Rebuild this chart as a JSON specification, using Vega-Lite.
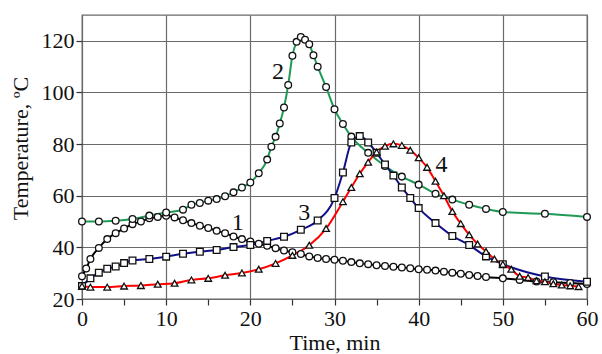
{
  "$schema": "https://vega.github.io/schema/vega-lite/v6.json",
  "autosize": "none",
  "width": 505,
  "height": 284,
  "padding": {"left": 82, "top": 15, "right": 15, "bottom": 55},
  "background": "white",
  "config": {
    "font": "Liberation Serif",
    "view": {"stroke": "#6a6a6a", "strokeWidth": 1.3},
    "axis": {
      "labelFont": "Liberation Serif",
      "titleFont": "Liberation Serif",
      "labelFontSize": 22,
      "titleFontSize": 22,
      "titleFontWeight": "normal",
      "labelColor": "#111",
      "titleColor": "#111",
      "domain": false,
      "gridColor": "#6a6a6a",
      "gridWidth": 1.2,
      "gridOpacity": 1,
      "tickColor": "#333",
      "tickSize": 6,
      "tickWidth": 1.2
    }
  },
  "datasets": {
    "series": [
      {"t": 0, "v": 28.8, "s": "1"}, {"t": 0.5, "v": 31.8, "s": "1"}, {"t": 1, "v": 35.5, "s": "1"}, {"t": 2, "v": 39.8, "s": "1"},
      {"t": 3, "v": 43.2, "s": "1"}, {"t": 4, "v": 45.5, "s": "1"}, {"t": 5, "v": 47.3, "s": "1"}, {"t": 6, "v": 49.0, "s": "1"},
      {"t": 7, "v": 50.0, "s": "1"}, {"t": 8, "v": 51.3, "s": "1"}, {"t": 9, "v": 51.8, "s": "1"}, {"t": 10, "v": 52.2, "s": "1"},
      {"t": 11, "v": 51.6, "s": "1"}, {"t": 12, "v": 50.5, "s": "1"}, {"t": 13, "v": 49.4, "s": "1"}, {"t": 14, "v": 48.4, "s": "1"},
      {"t": 15, "v": 47.5, "s": "1"}, {"t": 16, "v": 46.4, "s": "1"}, {"t": 17, "v": 45.5, "s": "1"}, {"t": 18, "v": 44.2, "s": "1"},
      {"t": 19, "v": 43.2, "s": "1"}, {"t": 20, "v": 42.3, "s": "1"}, {"t": 21, "v": 41.4, "s": "1"}, {"t": 22, "v": 40.6, "s": "1"},
      {"t": 23, "v": 39.7, "s": "1"}, {"t": 24, "v": 38.8, "s": "1"}, {"t": 25, "v": 38.1, "s": "1"}, {"t": 26, "v": 37.4, "s": "1"},
      {"t": 27, "v": 36.5, "s": "1"}, {"t": 28, "v": 35.9, "s": "1"}, {"t": 29, "v": 35.5, "s": "1"}, {"t": 30, "v": 35.2, "s": "1"},
      {"t": 31, "v": 34.8, "s": "1"}, {"t": 32, "v": 34.3, "s": "1"}, {"t": 33, "v": 33.8, "s": "1"}, {"t": 34, "v": 33.5, "s": "1"},
      {"t": 35, "v": 33.1, "s": "1"}, {"t": 36, "v": 32.8, "s": "1"}, {"t": 37, "v": 32.5, "s": "1"}, {"t": 38, "v": 32.2, "s": "1"},
      {"t": 39, "v": 31.9, "s": "1"}, {"t": 40, "v": 31.5, "s": "1"}, {"t": 41, "v": 31.3, "s": "1"}, {"t": 42, "v": 31.0, "s": "1"},
      {"t": 43, "v": 30.6, "s": "1"}, {"t": 44, "v": 30.2, "s": "1"}, {"t": 45, "v": 29.8, "s": "1"}, {"t": 46, "v": 29.3, "s": "1"},
      {"t": 47, "v": 28.9, "s": "1"}, {"t": 48, "v": 28.5, "s": "1"}, {"t": 50, "v": 28.0, "s": "1"}, {"t": 52, "v": 27.4, "s": "1"},
      {"t": 54, "v": 26.8, "s": "1"}, {"t": 56, "v": 26.5, "s": "1"}, {"t": 58, "v": 26.2, "s": "1"}, {"t": 60, "v": 25.8, "s": "1"},

      {"t": 0, "v": 50.0, "s": "2"}, {"t": 2, "v": 50.0, "s": "2"}, {"t": 4, "v": 50.3, "s": "2"}, {"t": 6, "v": 51.0, "s": "2"},
      {"t": 8, "v": 52.3, "s": "2"}, {"t": 10, "v": 53.5, "s": "2"}, {"t": 12, "v": 54.6, "s": "2"}, {"t": 13, "v": 56.5, "s": "2"},
      {"t": 14, "v": 57.2, "s": "2"}, {"t": 15, "v": 58.1, "s": "2"}, {"t": 16, "v": 58.7, "s": "2"}, {"t": 17, "v": 59.8, "s": "2"},
      {"t": 18, "v": 61.3, "s": "2"}, {"t": 19, "v": 63.2, "s": "2"}, {"t": 20, "v": 65.1, "s": "2"}, {"t": 21, "v": 68.7, "s": "2"},
      {"t": 22, "v": 74.0, "s": "2"}, {"t": 22.5, "v": 79.0, "s": "2"}, {"t": 23, "v": 82.8, "s": "2"}, {"t": 23.5, "v": 88.0, "s": "2"},
      {"t": 24, "v": 94.2, "s": "2"}, {"t": 24.5, "v": 102.9, "s": "2"}, {"t": 25, "v": 114.2, "s": "2"}, {"t": 25.5, "v": 119.6, "s": "2"},
      {"t": 26, "v": 121.5, "s": "2"}, {"t": 26.5, "v": 120.4, "s": "2"}, {"t": 27, "v": 118.7, "s": "2"}, {"t": 27.5, "v": 114.4, "s": "2"},
      {"t": 28, "v": 110.0, "s": "2"}, {"t": 29, "v": 102.1, "s": "2"}, {"t": 30, "v": 93.5, "s": "2"}, {"t": 31, "v": 87.8, "s": "2"},
      {"t": 32, "v": 82.9, "s": "2"}, {"t": 34, "v": 76.6, "s": "2"}, {"t": 36, "v": 71.5, "s": "2"}, {"t": 38, "v": 67.4, "s": "2"},
      {"t": 40, "v": 64.3, "s": "2"}, {"t": 42, "v": 60.8, "s": "2"}, {"t": 44, "v": 58.5, "s": "2"}, {"t": 46, "v": 56.5, "s": "2"},
      {"t": 48, "v": 54.9, "s": "2"}, {"t": 50, "v": 53.7, "s": "2"}, {"t": 55, "v": 53.0, "s": "2"}, {"t": 60, "v": 51.8, "s": "2"},

      {"t": 0, "v": 25.0, "s": "3"}, {"t": 1, "v": 28.0, "s": "3"}, {"t": 2, "v": 30.2, "s": "3"}, {"t": 3, "v": 31.7, "s": "3"},
      {"t": 4, "v": 32.6, "s": "3"}, {"t": 5, "v": 33.9, "s": "3"}, {"t": 6, "v": 34.9, "s": "3"}, {"t": 8, "v": 35.5, "s": "3"},
      {"t": 10, "v": 36.4, "s": "3"}, {"t": 12, "v": 37.5, "s": "3"}, {"t": 14, "v": 38.3, "s": "3"}, {"t": 16, "v": 39.0, "s": "3"},
      {"t": 18, "v": 40.1, "s": "3"}, {"t": 20, "v": 40.9, "s": "3"}, {"t": 22, "v": 42.5, "s": "3"}, {"t": 24, "v": 44.1, "s": "3"},
      {"t": 26, "v": 46.8, "s": "3"}, {"t": 28, "v": 50.4, "s": "3"}, {"t": 30, "v": 59.1, "s": "3"}, {"t": 31, "v": 69.0, "s": "3"},
      {"t": 32, "v": 80.6, "s": "3"}, {"t": 33, "v": 83.1, "s": "3"}, {"t": 34, "v": 80.6, "s": "3"}, {"t": 35, "v": 76.6, "s": "3"},
      {"t": 36, "v": 72.1, "s": "3"}, {"t": 37, "v": 67.8, "s": "3"}, {"t": 38, "v": 63.2, "s": "3"}, {"t": 39, "v": 59.1, "s": "3"},
      {"t": 40, "v": 55.2, "s": "3"}, {"t": 42, "v": 49.4, "s": "3"}, {"t": 44, "v": 44.4, "s": "3"}, {"t": 46, "v": 40.9, "s": "3"},
      {"t": 48, "v": 36.5, "s": "3"}, {"t": 50, "v": 33.5, "s": "3"}, {"t": 55, "v": 28.7, "s": "3"}, {"t": 60, "v": 26.7, "s": "3"},

      {"t": 0, "v": 25.0, "s": "4"}, {"t": 1, "v": 24.6, "s": "4"}, {"t": 3, "v": 24.6, "s": "4"}, {"t": 5, "v": 25.0, "s": "4"},
      {"t": 7, "v": 25.2, "s": "4"}, {"t": 9, "v": 25.7, "s": "4"}, {"t": 11, "v": 26.1, "s": "4"}, {"t": 13, "v": 27.4, "s": "4"},
      {"t": 15, "v": 28.0, "s": "4"}, {"t": 17, "v": 29.2, "s": "4"}, {"t": 19, "v": 30.1, "s": "4"}, {"t": 21, "v": 31.5, "s": "4"},
      {"t": 23, "v": 33.8, "s": "4"}, {"t": 25, "v": 36.9, "s": "4"}, {"t": 27, "v": 40.8, "s": "4"}, {"t": 29, "v": 47.3, "s": "4"},
      {"t": 31, "v": 57.7, "s": "4"}, {"t": 32, "v": 63.2, "s": "4"}, {"t": 33, "v": 68.5, "s": "4"}, {"t": 34, "v": 73.0, "s": "4"},
      {"t": 35, "v": 76.9, "s": "4"}, {"t": 36, "v": 79.2, "s": "4"}, {"t": 37, "v": 80.1, "s": "4"}, {"t": 38, "v": 79.5, "s": "4"},
      {"t": 39, "v": 77.6, "s": "4"}, {"t": 40, "v": 74.7, "s": "4"}, {"t": 41, "v": 71.0, "s": "4"}, {"t": 42, "v": 65.6, "s": "4"},
      {"t": 43, "v": 60.0, "s": "4"}, {"t": 44, "v": 53.9, "s": "4"}, {"t": 45, "v": 49.2, "s": "4"}, {"t": 46, "v": 44.9, "s": "4"},
      {"t": 47, "v": 41.3, "s": "4"}, {"t": 48, "v": 38.4, "s": "4"}, {"t": 49, "v": 35.5, "s": "4"}, {"t": 50, "v": 33.5, "s": "4"},
      {"t": 51, "v": 31.5, "s": "4"}, {"t": 52, "v": 28.8, "s": "4"}, {"t": 53, "v": 28.3, "s": "4"}, {"t": 54, "v": 27.1, "s": "4"},
      {"t": 55, "v": 26.7, "s": "4"}, {"t": 56, "v": 25.9, "s": "4"}, {"t": 57, "v": 25.4, "s": "4"}, {"t": 58, "v": 25.1, "s": "4"},
      {"t": 59, "v": 24.8, "s": "4"}
    ],
    "labels": [
      {"t": 18.5, "v": 49.5, "label": "1"},
      {"t": 23.3, "v": 108, "label": "2"},
      {"t": 26.4, "v": 53.4, "label": "3"},
      {"t": 42.7, "v": 71.8, "label": "4"}
    ]
  },
  "encoding": {
    "x": {
      "field": "t", "type": "quantitative",
      "scale": {"domain": [0, 60], "nice": false, "zero": false},
      "axis": {
        "title": "Time, min",
        "values": [0, 5, 10, 15, 20, 25, 30, 35, 40, 45, 50, 55, 60],
        "labelExpr": "datum.value % 10 === 0 ? datum.label : ''",
        "gridOpacity": {"condition": {"test": "datum.value % 10 !== 0", "value": 0}, "value": 1},
        "labelPadding": 3,
        "titlePadding": 3,
        "labelFlush": false
      }
    },
    "y": {
      "field": "v", "type": "quantitative",
      "scale": {"domain": [20, 130], "nice": false, "zero": false},
      "axis": {
        "title": "Temperature, ºC",
        "values": [20, 40, 60, 80, 100, 120],
        "labelPadding": 2,
        "titleX": -62,
        "titleY": 133,
        "titleAlign": "center",
        "titleBaseline": "middle",
        "labelFlush": false
      }
    }
  },
  "layer": [
    {
      "data": {"name": "series"},
      "mark": {"type": "line", "interpolate": "monotone", "strokeWidth": 2},
      "encoding": {
        "detail": {"field": "s"},
        "color": {
          "field": "s", "type": "nominal", "legend": null,
          "scale": {"domain": ["1", "2", "3", "4"], "range": ["#000000", "#1f9a55", "#10108a", "#ff0000"]}
        }
      }
    },
    {
      "data": {"name": "series"},
      "mark": {"type": "point", "filled": false, "fill": "white", "fillOpacity": 1, "stroke": "#111", "strokeWidth": 1.3, "opacity": 1},
      "encoding": {
        "shape": {
          "field": "s", "type": "nominal", "legend": null,
          "scale": {"domain": ["1", "2", "3", "4"], "range": ["circle", "circle", "square", "triangle-up"]}
        },
        "size": {
          "field": "s", "type": "nominal", "legend": null,
          "scale": {"domain": ["1", "2", "3", "4"], "range": [45, 45, 60, 55]}
        }
      }
    },
    {
      "data": {"name": "labels"},
      "mark": {"type": "text", "font": "Liberation Serif", "fontSize": 24, "color": "#111", "align": "center", "baseline": "middle"},
      "encoding": {"text": {"field": "label"}}
    }
  ]
}
